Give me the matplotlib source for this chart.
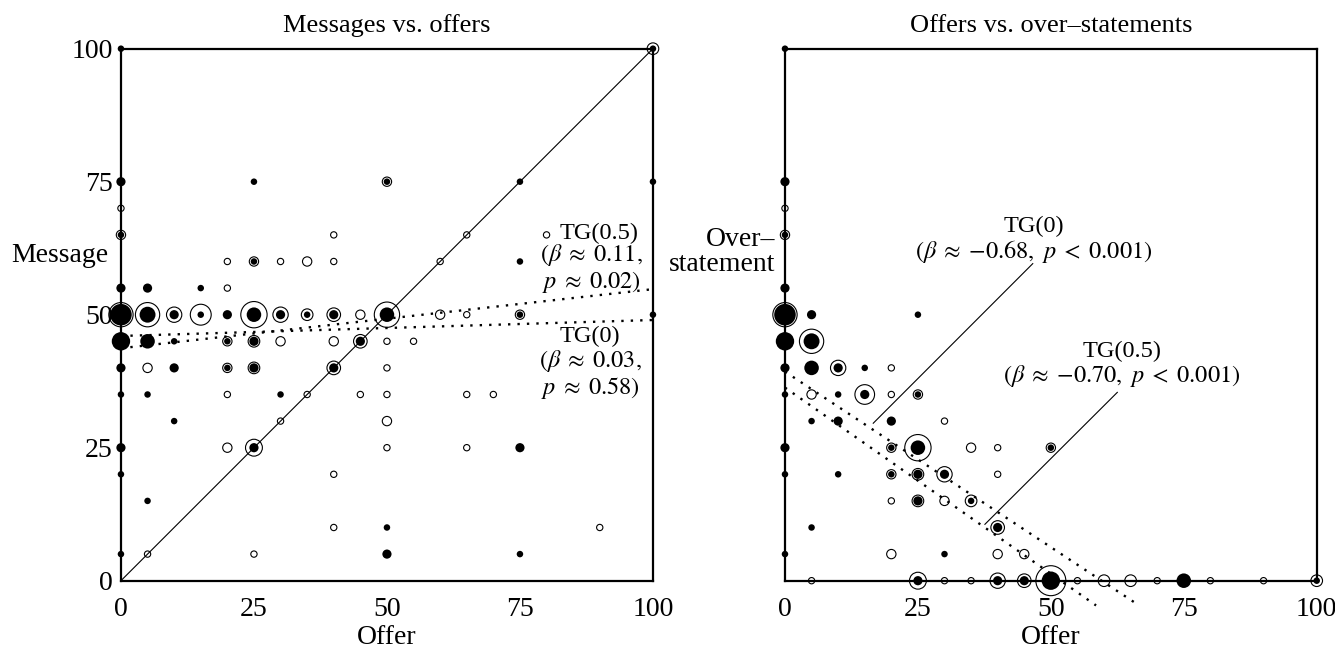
import numpy as np
import matplotlib
matplotlib.use("Agg")
import matplotlib.pyplot as plt

plt.rcParams["font.family"] = ["Liberation Serif", "DejaVu Serif"]
plt.rcParams["mathtext.fontset"] = "stix"

# (offer, message, count) -- filled = TG(0), hollow = TG(0.5)
msg_tg0 = [
    (0, 100, 1), (0, 75, 2), (25, 75, 1), (50, 75, 1), (75, 75, 1), (100, 75, 1), (100, 100, 1),
    (0, 65, 1), (25, 60, 1), (75, 60, 1),
    (0, 55, 2), (5, 55, 2), (15, 55, 1),
    (0, 50, 11), (5, 50, 6), (10, 50, 2), (15, 50, 1), (20, 50, 2), (25, 50, 5), (30, 50, 2),
    (35, 50, 1), (40, 50, 2), (50, 50, 5), (75, 50, 1), (100, 50, 1),
    (0, 45, 8), (5, 45, 5), (10, 45, 1), (20, 45, 1), (25, 45, 2), (45, 45, 2),
    (0, 40, 2), (10, 40, 2), (20, 40, 1), (25, 40, 2), (40, 40, 2),
    (0, 35, 1), (5, 35, 1), (30, 35, 1), (10, 30, 1),
    (0, 25, 2), (25, 25, 2), (75, 25, 2),
    (0, 20, 1), (5, 15, 1), (50, 10, 1),
    (0, 5, 1), (50, 5, 2), (75, 5, 1),
]
msg_tg05 = [
    (100, 100, 3), (50, 75, 2), (0, 70, 1), (0, 65, 2), (40, 65, 1), (65, 65, 1), (80, 65, 1),
    (20, 60, 1), (25, 60, 2), (30, 60, 1), (35, 60, 2), (40, 60, 1), (60, 60, 1),
    (20, 55, 1),
    (0, 50, 12), (5, 50, 12), (10, 50, 5), (15, 50, 9), (25, 50, 14), (30, 50, 5), (35, 50, 3),
    (40, 50, 4), (45, 50, 2), (50, 50, 13), (60, 50, 2), (65, 50, 1), (75, 50, 2),
    (20, 45, 2), (25, 45, 3), (30, 45, 2), (40, 45, 2), (45, 45, 4), (50, 45, 1), (55, 45, 1),
    (5, 40, 2), (20, 40, 2), (25, 40, 3), (40, 40, 4), (50, 40, 1),
    (20, 35, 1), (35, 35, 1), (45, 35, 1), (50, 35, 1), (65, 35, 1), (70, 35, 1),
    (30, 30, 1), (50, 30, 2),
    (20, 25, 2), (25, 25, 6), (50, 25, 1), (65, 25, 1),
    (40, 20, 1), (40, 10, 1), (90, 10, 1),
    (5, 5, 1), (25, 5, 1),
]

# (offer, over-statement, count)
over_tg0 = [
    (0, 100, 1), (0, 75, 2), (0, 65, 1), (0, 55, 2), (0, 50, 11), (5, 50, 2), (25, 50, 1),
    (0, 45, 8), (5, 45, 6),
    (0, 40, 2), (5, 40, 5), (10, 40, 2), (15, 40, 1),
    (0, 35, 1), (10, 35, 1), (15, 35, 2), (25, 35, 1),
    (5, 30, 1), (10, 30, 2), (20, 30, 2),
    (0, 25, 2), (20, 25, 1), (25, 25, 5), (50, 25, 1),
    (0, 20, 1), (10, 20, 1), (20, 20, 1), (25, 20, 2), (30, 20, 2),
    (25, 15, 2), (35, 15, 1),
    (5, 10, 1), (40, 10, 2),
    (0, 5, 1), (30, 5, 1),
    (25, 0, 2), (40, 0, 2), (45, 0, 2), (50, 0, 8), (75, 0, 5), (100, 0, 1),
]
over_tg05 = [
    (0, 70, 1), (0, 65, 2), (0, 50, 12),
    (5, 45, 12),
    (10, 40, 5), (20, 40, 1),
    (5, 35, 2), (15, 35, 8), (20, 35, 1), (25, 35, 2),
    (30, 30, 1),
    (20, 25, 2), (25, 25, 14), (35, 25, 2), (40, 25, 1), (50, 25, 2),
    (20, 20, 2), (25, 20, 3), (30, 20, 5), (40, 20, 1),
    (20, 15, 1), (25, 15, 3), (30, 15, 2), (35, 15, 3),
    (40, 10, 4),
    (20, 5, 2), (40, 5, 2), (45, 5, 2),
    (5, 0, 1), (25, 0, 6), (30, 0, 1), (35, 0, 1), (40, 0, 5), (45, 0, 4), (50, 0, 18),
    (55, 0, 1), (60, 0, 3), (65, 0, 3), (70, 0, 1), (80, 0, 1), (90, 0, 1), (100, 0, 3),
]

# fitted lines: (intercept, slope, x_end)
msg_fit_tg0 = (46.0, 0.03, 100)
msg_fit_tg05 = (43.7, 0.111, 100)
over_fit_tg0 = (39.3, -0.66, 66)
over_fit_tg05 = (36.3, -0.70, 58.5)

ticks = [0, 25, 50, 75, 100]

PX = 0.72  # points per pixel at dpi 100


def scatter_counts(ax, pts, filled):
    x = np.array([p[0] for p in pts])
    y = np.array([p[1] for p in pts])
    n = np.array([p[2] for p in pts], dtype=float)
    if filled:
        s = (6.5 * np.sqrt(n) * PX) ** 2
        ax.scatter(x, y, s=s, c="black", edgecolors="none", clip_on=False, zorder=4)
    else:
        s = ((7.3 * np.sqrt(n) - 1.0) * PX) ** 2
        ax.scatter(x, y, s=s, facecolors="none", edgecolors="black", linewidths=0.8,
                   clip_on=False, zorder=5)


def fit_line(ax, fit):
    b, m, xe = fit
    xs = np.array([0, xe])
    ax.plot(xs, b + m * xs, color="black", lw=1.7, ls=(0, (1, 3)), clip_on=False, zorder=3)


def setup(ax, title, ylabels=True):
    ax.set_xlim(0, 100)
    ax.set_ylim(0, 100)
    ax.set_xticks(ticks)
    ax.set_yticks(ticks)
    ax.tick_params(length=0, labelsize=20)
    ax.tick_params(axis="x", pad=12)
    ax.tick_params(axis="y", pad=6)
    if not ylabels:
        ax.set_yticklabels([])
    for sp in ax.spines.values():
        sp.set_linewidth(1.6)
    ax.text(0.5, 1.032, title, transform=ax.transAxes, ha="center", va="baseline", fontsize=19)
    ax.text(0.5, -0.106, "Offer", transform=ax.transAxes, ha="center", va="center", fontsize=20)


def note(ax, x, y, s):
    ax.text(x, y, s, ha="center", va="center", multialignment="center",
            fontsize=17.5, linespacing=1.05)


fig = plt.figure(figsize=(13.35, 6.51), dpi=100)
ax1 = fig.add_axes([0.0906, 0.108, 0.3985, 0.8172])
ax2 = fig.add_axes([0.588, 0.108, 0.3983, 0.8172])

# left panel
setup(ax1, "Messages vs. offers")
ax1.plot([0, 100], [0, 100], color="black", lw=0.8, zorder=2)
fit_line(ax1, msg_fit_tg0)
fit_line(ax1, msg_fit_tg05)
scatter_counts(ax1, msg_tg0, True)
scatter_counts(ax1, msg_tg05, False)
ax1.text(-2.4, 61.2, "Message", ha="right", va="center", fontsize=20)
note(ax1, 89.8, 65.3, "TG(0.5)")
note(ax1, 88.5, 58.6, "$(\\beta\\;\\approx\\;0.11,$\n$p\\;\\approx\\;0.02)$")
note(ax1, 88.2, 40.9, "TG(0)\n$(\\beta\\;\\approx\\;0.03,$\n$p\\;\\approx\\;0.58)$")

# right panel
setup(ax2, "Offers vs. over\u2013statements", ylabels=False)
fit_line(ax2, over_fit_tg0)
fit_line(ax2, over_fit_tg05)
scatter_counts(ax2, over_tg0, True)
scatter_counts(ax2, over_tg05, False)
ax2.text(-1.9, 61.7, "Over\u2013\nstatement", ha="right", va="center", multialignment="right",
         fontsize=20, linespacing=1.0)
note(ax2, 46.8, 64.0, "TG(0)\n$(\\beta\\;\\approx\\;{-}0.68,\\ p\\;<\\;0.001)$")
note(ax2, 63.4, 40.6, "TG(0.5)\n$(\\beta\\;\\approx\\;{-}0.70,\\ p\\;<\\;0.001)$")
ax2.plot([46.6, 16.6], [59.6, 29.6], color="black", lw=0.8, zorder=2)
ax2.plot([62.5, 37.6], [35.4, 10.6], color="black", lw=0.8, zorder=2)

fig.savefig("out.png", dpi=100)
